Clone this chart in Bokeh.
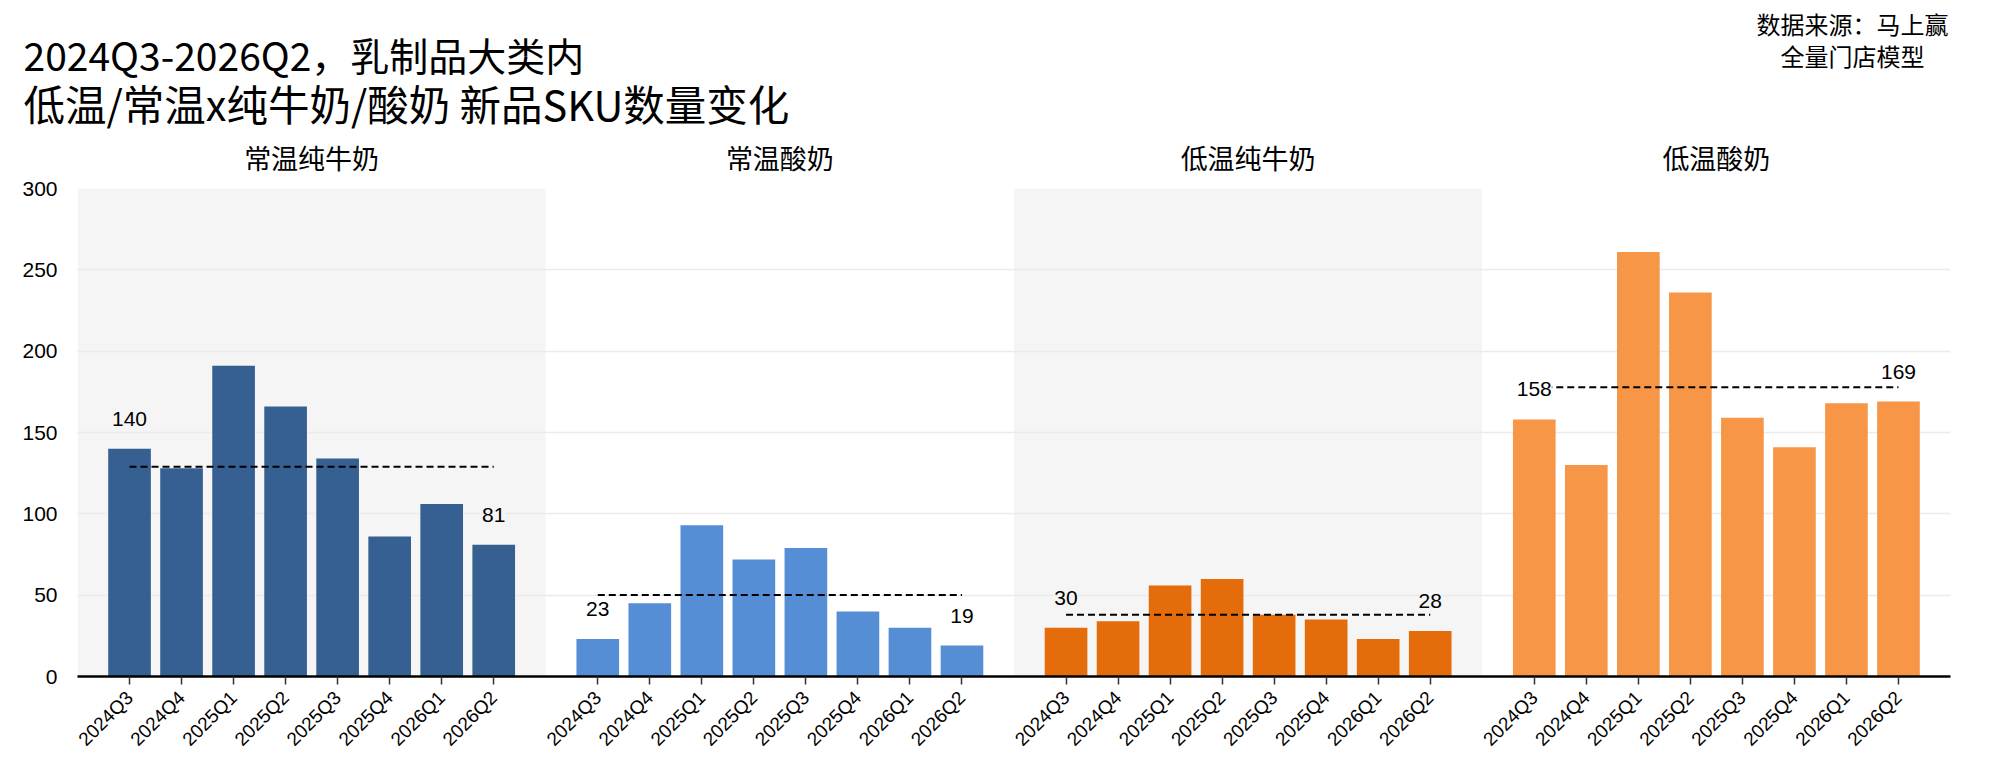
import math
from bokeh.plotting import figure
from bokeh.layouts import column
from bokeh.models import ColumnDataSource, Range1d, FixedTicker, LabelSet, LinearAxis
from bokeh.core.properties import value
from bokeh.embed import file_html
from bokeh.resources import INLINE

# ---------------- data ----------------
quarters = ["2024Q3", "2024Q4", "2025Q1", "2025Q2", "2025Q3", "2025Q4", "2026Q1", "2026Q2"]
panels = ["常温纯牛奶", "常温酸奶", "低温纯牛奶", "低温酸奶"]
ambient_milk = [140, 128, 191, 166, 134, 86, 106, 81]
ambient_yogurt = [23, 45, 93, 72, 79, 40, 30, 19]
chilled_milk = [30, 34, 56, 60, 38, 35, 23, 28]
chilled_yogurt = [158, 130, 261, 236, 159, 141, 168, 169]
series = [ambient_milk, ambient_yogurt, chilled_milk, chilled_yogurt]
y_ticks = [0, 50, 100, 150, 200, 250, 300]
title_lines = ["2024Q3-2026Q2，乳制品大类内", "低温/常温x纯牛奶/酸奶 新品SKU数量变化"]
source_lines = ["数据来源：马上赢", "全量门店模型"]

# ---------------- styles / layout ----------------
bar_colors = ["#376092", "#558ED5", "#E46C0A", "#F79646"]
band_colors = ["#F5F5F5", "#FFFFFF", "#F5F5F5", "#FFFFFF"]
CJK = "Noto Sans CJK SC"
LAT = "Liberation Sans"

W = 1976
HEAD_H = 134              # header strip (titles, source)
ML, MR = 77, 26           # frame left / right margins
MT, FH, MB = 54, 488, 84  # main figure: top border (panel names), frame height, bottom border
MAIN_H = MT + FH + MB
FW = W - ML - MR

n = len(quarters)
span = n + 1  # each panel spans 9 x-units, bars at 1..8

# ---------------- main chart ----------------
p = figure(width=W, height=MAIN_H, x_range=Range1d(0, span * len(panels)),
           y_range=Range1d(0, 300), output_backend="svg", toolbar_location=None,
           min_border_left=ML, min_border_right=MR, min_border_top=MT, min_border_bottom=MB)
p.frame_align = False
p.outline_line_color = None
p.background_fill_color = "white"
p.border_fill_color = "white"

p.quad(left=[span * k for k in range(len(panels))],
       right=[span * (k + 1) for k in range(len(panels))],
       bottom=0, top=300, fill_color=band_colors, line_color=None, level="image")

all_ticks = []
overrides = {}
for k, vals in enumerate(series):
    xs = [span * k + j + 1 for j in range(n)]
    all_ticks += xs
    for x, q in zip(xs, quarters):
        overrides[x] = q
    src = ColumnDataSource(dict(x=xs, top=vals))
    p.vbar(x="x", top="top", width=0.82, bottom=0, source=src,
           fill_color=bar_colors[k], line_color=None)
    mean = sum(vals) / len(vals)
    p.line([xs[0], xs[-1]], [mean, mean], line_color="black", line_width=2, line_dash="7 4")
    lab_src = ColumnDataSource(dict(x=[xs[0], xs[-1]], y=[vals[0], vals[-1]],
                                    t=[str(vals[0]), str(vals[-1])]))
    p.add_layout(LabelSet(x="x", y="y", text="t", source=lab_src, y_offset=30,
                          text_align="center", text_baseline="middle",
                          text_font=value(LAT), text_font_size=value("21px"),
                          text_color="black", background_fill_color=band_colors[k]))

p.xgrid.visible = False
p.ygrid.ticker = FixedTicker(ticks=y_ticks)
p.ygrid.grid_line_color = "#EBEBEB"
p.ygrid.grid_line_width = 1.5

p.xaxis.ticker = FixedTicker(ticks=all_ticks)
p.xaxis.major_label_overrides = overrides
p.xaxis.major_label_orientation = math.pi / 4
p.xaxis.axis_line_color = "black"
p.xaxis.axis_line_width = 2.5
p.xaxis.major_tick_out = 8
p.xaxis.major_tick_in = 0
p.xaxis.major_tick_line_color = "#333333"
p.xaxis.major_tick_line_width = 1.5
p.xaxis.minor_tick_line_color = None
p.xaxis.major_label_text_font = LAT
p.xaxis.major_label_text_font_size = "19px"
p.xaxis.major_label_text_color = "black"
p.xaxis.major_label_standoff = 10

# panel names as an axis above the frame
panel_centers = [span * k + span / 2 for k in range(len(panels))]
top_axis = LinearAxis(ticker=FixedTicker(ticks=panel_centers),
                      major_label_overrides={c: t for c, t in zip(panel_centers, panels)})
top_axis.axis_line_color = None
top_axis.major_tick_line_color = None
top_axis.minor_tick_line_color = None
top_axis.major_tick_out = 0
top_axis.major_tick_in = 0
top_axis.major_label_standoff = 12
top_axis.major_label_text_font = CJK
top_axis.major_label_text_font_size = "27px"
top_axis.major_label_text_color = "black"
p.add_layout(top_axis, "above")

p.yaxis.ticker = FixedTicker(ticks=y_ticks)
p.yaxis.axis_line_color = None
p.yaxis.major_tick_line_color = None
p.yaxis.minor_tick_line_color = None
p.yaxis.major_tick_out = 0
p.yaxis.major_tick_in = 0
p.yaxis.major_label_standoff = 20
p.yaxis.major_label_text_font = LAT
p.yaxis.major_label_text_font_size = "21px"
p.yaxis.major_label_text_color = "black"

# ---------------- header strip (pixel coordinates, y measured from top) ----------------
h = figure(width=W, height=HEAD_H, x_range=Range1d(0, W), y_range=Range1d(HEAD_H, 0),
           output_backend="svg", toolbar_location=None,
           x_axis_location=None, y_axis_location=None,
           min_border_left=0, min_border_right=0, min_border_top=0, min_border_bottom=0)
h.frame_align = False
h.outline_line_color = None
h.grid.visible = False
h.background_fill_color = "white"
h.border_fill_color = "white"

h.text(x=[23], y=[53], text=title_lines[:1], text_font=value(CJK),
       text_font_size="39px", text_align="left", text_baseline="middle", text_color="black")
h.text(x=[23], y=[102], text=title_lines[1:], text_font=value(CJK),
       text_font_size="41.5px", text_align="left", text_baseline="middle", text_color="black")
h.text(x=[1852, 1852], y=[23, 55], text=source_lines, text_font=value(CJK),
       text_font_size="24px", text_align="center", text_baseline="middle", text_color="black")

layout = column(h, p, spacing=0)
open("out.html", "w").write(file_html(layout, INLINE))
